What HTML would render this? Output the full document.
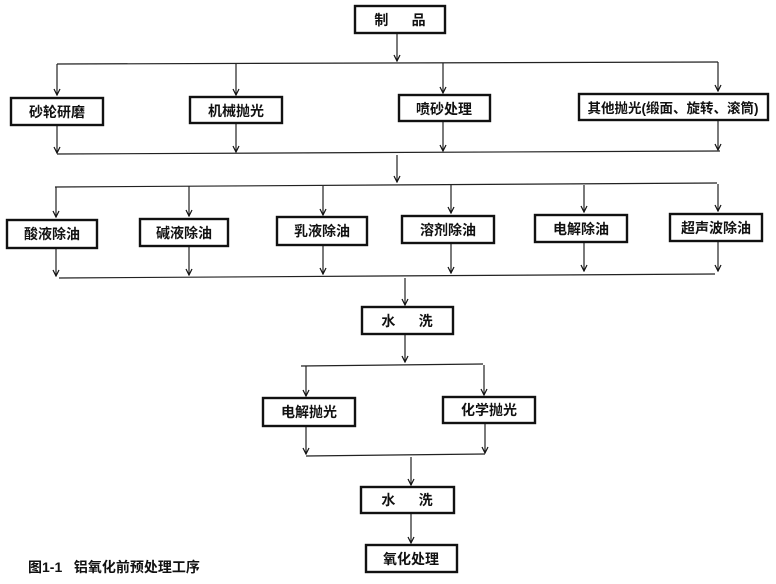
<!DOCTYPE html>
<html><head><meta charset="utf-8"><style>
html,body{margin:0;padding:0;background:#fff;}
svg{display:block}
text{font-family:"Liberation Sans","Noto Sans CJK SC",sans-serif;font-weight:bold;fill:#111;}
</style></head><body>
<svg width="776" height="584" viewBox="0 0 776 584" xmlns="http://www.w3.org/2000/svg">
<defs>
<marker id="a" markerWidth="8" markerHeight="8" refX="7" refY="4" orient="auto" markerUnits="userSpaceOnUse">
<path d="M1,1 L7,4 L1,7" fill="none" stroke="#111" stroke-width="1.2"/>
</marker>
</defs>
<g stroke="#222" stroke-width="1.2" fill="none">
<line x1="397" y1="34" x2="397" y2="61" marker-end="url(#a)"/>
<line x1="57" y1="64" x2="718" y2="62"/>
<line x1="57" y1="64" x2="57" y2="95" marker-end="url(#a)"/>
<line x1="236" y1="64" x2="236" y2="95" marker-end="url(#a)"/>
<line x1="443" y1="63" x2="443" y2="93" marker-end="url(#a)"/>
<line x1="718" y1="62" x2="718" y2="91" marker-end="url(#a)"/>
<line x1="57" y1="126" x2="57" y2="153" marker-end="url(#a)"/>
<line x1="236" y1="124" x2="236" y2="152" marker-end="url(#a)"/>
<line x1="443" y1="122" x2="443" y2="151" marker-end="url(#a)"/>
<line x1="718" y1="121" x2="718" y2="150" marker-end="url(#a)"/>
<line x1="57" y1="154" x2="720" y2="151"/>
<line x1="397" y1="155" x2="397" y2="182" marker-end="url(#a)"/>
<line x1="55" y1="187" x2="717" y2="183"/>
<line x1="56" y1="187" x2="56" y2="217" marker-end="url(#a)"/>
<line x1="189" y1="186" x2="189" y2="216" marker-end="url(#a)"/>
<line x1="323" y1="186" x2="323" y2="215" marker-end="url(#a)"/>
<line x1="451" y1="185" x2="451" y2="213" marker-end="url(#a)"/>
<line x1="584" y1="185" x2="584" y2="212" marker-end="url(#a)"/>
<line x1="718" y1="184" x2="718" y2="211" marker-end="url(#a)"/>
<line x1="56" y1="249" x2="56" y2="276" marker-end="url(#a)"/>
<line x1="189" y1="247" x2="189" y2="275" marker-end="url(#a)"/>
<line x1="323" y1="246" x2="323" y2="274" marker-end="url(#a)"/>
<line x1="451" y1="244" x2="451" y2="273" marker-end="url(#a)"/>
<line x1="584" y1="243" x2="584" y2="271" marker-end="url(#a)"/>
<line x1="718" y1="242" x2="718" y2="271" marker-end="url(#a)"/>
<line x1="59" y1="278" x2="715" y2="274"/>
<line x1="405" y1="278" x2="405" y2="305" marker-end="url(#a)"/>
<line x1="405" y1="335" x2="405" y2="362" marker-end="url(#a)"/>
<line x1="301" y1="366" x2="483" y2="364"/>
<line x1="306" y1="366" x2="306" y2="396" marker-end="url(#a)"/>
<line x1="484" y1="365" x2="484" y2="395" marker-end="url(#a)"/>
<line x1="306" y1="427" x2="306" y2="454" marker-end="url(#a)"/>
<line x1="485" y1="424" x2="485" y2="453" marker-end="url(#a)"/>
<line x1="306" y1="456" x2="485" y2="454"/>
<line x1="411" y1="457" x2="411" y2="485" marker-end="url(#a)"/>
<line x1="411" y1="514" x2="411" y2="543" marker-end="url(#a)"/>
</g>
<g fill="#fff" stroke="#111">
<rect x="355" y="6" width="90" height="27" stroke-width="2.4"/>
<rect x="11" y="98" width="92" height="27" stroke-width="2.4"/>
<rect x="190" y="97" width="92" height="26" stroke-width="2.4"/>
<rect x="399" y="95" width="91" height="26" stroke-width="2.4"/>
<rect x="579" y="94" width="189" height="26" stroke-width="2.4"/>
<rect x="7" y="220" width="90" height="28" stroke-width="2.4"/>
<rect x="140" y="219" width="88" height="27" stroke-width="2.4"/>
<rect x="277" y="217" width="90" height="28" stroke-width="2.4"/>
<rect x="402" y="216" width="92" height="27" stroke-width="2.4"/>
<rect x="535" y="215" width="92" height="27" stroke-width="2.4"/>
<rect x="670" y="214" width="92" height="27" stroke-width="2.4"/>
<rect x="362" y="307" width="91" height="27" stroke-width="2.4"/>
<rect x="263" y="398" width="92" height="28" stroke-width="2.4"/>
<rect x="443" y="397" width="92" height="26" stroke-width="2.4"/>
<rect x="361" y="487" width="93" height="26" stroke-width="2.4"/>
<rect x="366" y="545" width="91" height="27" stroke-width="2.4"/>
</g>
<g font-size="14" text-anchor="middle">
<text x="400" y="25" xml:space="preserve">制      品</text>
<text x="57" y="117">砂轮研磨</text>
<text x="236" y="116">机械抛光</text>
<text x="444" y="114">喷砂处理</text>
<text x="673" y="113" font-size="13.5">其他抛光(缎面、旋转、滚筒)</text>
<text x="52" y="239">酸液除油</text>
<text x="184" y="238">碱液除油</text>
<text x="322" y="236">乳液除油</text>
<text x="448" y="235">溶剂除油</text>
<text x="581" y="234">电解除油</text>
<text x="716" y="233">超声波除油</text>
<text x="407" y="326" xml:space="preserve">水      洗</text>
<text x="309" y="417">电解抛光</text>
<text x="489" y="415">化学抛光</text>
<text x="407" y="505" xml:space="preserve">水      洗</text>
<text x="411" y="564">氧化处理</text>
</g>
<text x="28" y="572" font-size="14" xml:space="preserve">图1-1   铝氧化前预处理工序</text>
</svg>
</body></html>
